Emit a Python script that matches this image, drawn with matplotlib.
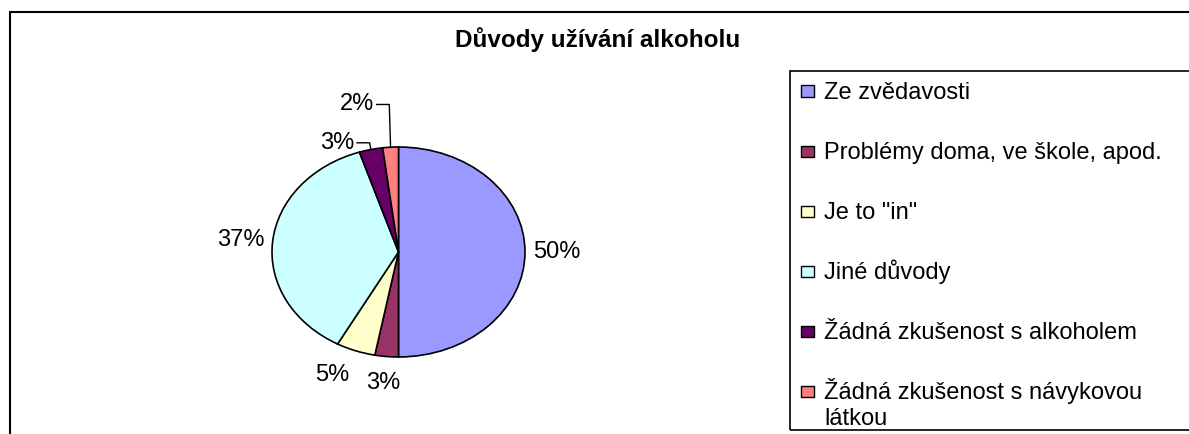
import textwrap
import numpy as np
import matplotlib
matplotlib.use('Agg')
import matplotlib.pyplot as plt
from matplotlib.patches import Rectangle

# Data
categories = ['Ze zvědavosti', 'Problémy doma, ve škole, apod.', 'Je to "in"',
              'Jiné důvody', 'Žádná zkušenost s alkoholem',
              'Žádná zkušenost s návykovou látkou']
shares = [50, 3, 5, 37, 3, 2]
colors = ['#9999FF', '#993366', '#FFFFCC', '#CCFFFF', '#660066', '#FF8080']
title = 'Důvody užívání alkoholu'

W, H = 1189, 434
plt.rcParams['font.family'] = ['Liberation Sans', 'DejaVu Sans']
FS = 17

fig = plt.figure(figsize=(W / 100, H / 100), dpi=100)


# pixel (from top-left) -> figure fraction
def fx(px):
    return px / W


def fy(py):
    return 1 - py / H


# Outer chart frame (right and bottom edges run off the picture)
fig.add_artist(Rectangle((fx(10), fy(460)), fx(1400) - fx(10), fy(12) - fy(460),
                         transform=fig.transFigure, fill=False,
                         edgecolor='black', lw=1.5))

# Title
fig.text(fx(598), fy(40), title, ha='center', va='center',
         fontsize=17.5, fontweight='bold')

# Pie (stretched into an ellipse like the original)
ax = fig.add_axes([fx(272), fy(357), fx(525) - fx(272), fy(147) - fy(357)])
wedges, texts, autotexts = ax.pie(
    shares, colors=colors, startangle=90, counterclock=False,
    autopct='%1.0f%%', pctdistance=1.25,
    wedgeprops=dict(edgecolor='black', linewidth=1.2),
    textprops=dict(fontsize=FS))
ax.set_aspect('auto')
ax.set_xlim(-1, 1)
ax.set_ylim(-1, 1)

# nudge the 5% label a little left, as in the original
px, py = autotexts[2].get_position()
autotexts[2].set_position((px - 0.1, py))

# Small slices at the top get moved labels with leader lines
for i, ly in [(4, 1.04), (5, 1.405)]:
    w = wedges[i]
    mid = np.deg2rad((w.theta1 + w.theta2) / 2)
    ex, ey = np.cos(mid), np.sin(mid)
    autotexts[i].set_position((ex - 0.13, ly))
    autotexts[i].set_ha('right')
    ax.plot([ex - 0.11, ex - 0.01, ex], [ly, ly, ey], color='black', lw=1,
            clip_on=False)

# Legend box (right edge runs off the picture)
fig.add_artist(Rectangle((fx(790), fy(430)), fx(1400) - fx(790), fy(71) - fy(430),
                         transform=fig.transFigure, fill=False,
                         edgecolor='black', lw=1.2))
for i, (cat, col) in enumerate(zip(categories, colors)):
    yc = 91 + 60 * i
    fig.add_artist(Rectangle((fx(801), fy(yc + 5.5)), fx(13), 11 / H,
                             transform=fig.transFigure, facecolor=col,
                             edgecolor='black', lw=1))
    for j, line in enumerate(textwrap.wrap(cat, 30)):
        fig.text(fx(824), fy(yc + 8 + 26 * j), line, ha='left',
                 va='baseline', fontsize=FS)

fig.savefig('out.png', dpi=100, facecolor='white')
